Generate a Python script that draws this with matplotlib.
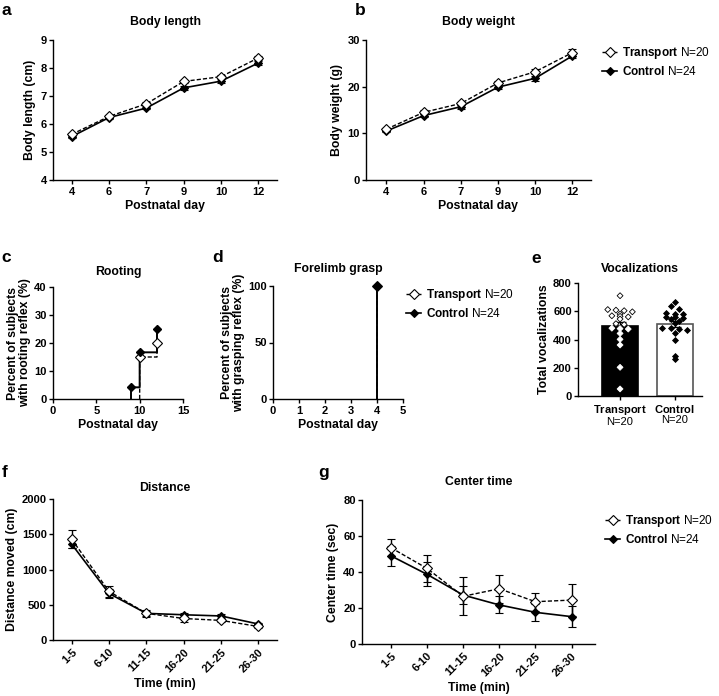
import matplotlib
import matplotlib.pyplot as plt
import numpy as np
from matplotlib.lines import Line2D

matplotlib.use("Agg")

plt.rcParams.update({
    "font.family": ["Liberation Sans", "DejaVu Sans"],
    "font.weight": "bold",
    "font.size": 8,
    "axes.labelweight": "bold",
    "axes.titleweight": "bold",
    "axes.labelsize": 8.8,
    "axes.titlesize": 8.8,
    "axes.linewidth": 1.0,
    "xtick.labelsize": 8,
    "ytick.labelsize": 8,
    "xtick.major.width": 1.0,
    "ytick.major.width": 1.0,
    "xtick.major.size": 3,
    "ytick.major.size": 3,
    "xtick.major.pad": 2,
    "ytick.major.pad": 1.5,
    "mathtext.fontset": "custom",
    "mathtext.rm": "Liberation Sans",
    "mathtext.bf": "Liberation Sans:bold",
})

# ---- data -------------------------------------------------------------
days = ["4", "6", "7", "9", "10", "12"]

length_tr = [5.63, 6.27, 6.72, 7.52, 7.69, 8.36]
length_tr_sem = [0.05, 0.05, 0.06, 0.06, 0.06, 0.07]
length_ct = [5.55, 6.23, 6.57, 7.29, 7.53, 8.18]
length_ct_sem = [0.05, 0.05, 0.05, 0.06, 0.06, 0.06]

weight_tr = [10.9, 14.5, 16.4, 20.8, 23.2, 27.3]
weight_tr_sem = [0.3, 0.4, 0.4, 0.5, 0.5, 0.8]
weight_ct = [10.5, 13.8, 15.7, 19.9, 21.8, 26.6]
weight_ct_sem = [0.3, 0.3, 0.4, 0.4, 0.5, 0.5]

rooting_tr_days = [10, 12]
rooting_tr_pct = [15.0, 20.0]
rooting_ct_days = [9, 10, 12]
rooting_ct_pct = [4.17, 16.67, 25.0]

grasp_tr_days = [4]
grasp_tr_pct = [100.0]
grasp_ct_days = [4]
grasp_ct_pct = [100.0]

voc_groups = ["Transport", "Control"]
voc_tr = [710, 612, 608, 604, 596, 580, 568, 564, 560, 545,
          512, 506, 480, 477, 474, 443, 401, 361, 203, 50]
voc_ct = [667, 637, 616, 590, 582, 578, 562, 560, 550, 545,
          530, 515, 480, 478, 472, 465, 448, 396, 283, 262]

bins = ["1-5", "6-10", "11-15", "16-20", "21-25", "26-30"]

dist_tr = [1430, 690, 378, 305, 278, 192]
dist_tr_sem = [125, 80, 50, 50, 25, 20]
dist_ct = [1360, 660, 378, 358, 341, 227]
dist_ct_sem = [60, 60, 40, 30, 25, 20]

center_tr = [53.5, 42.0, 26.5, 30.7, 23.5, 24.4]
center_tr_sem = [4.6, 7.6, 10.5, 7.8, 5.0, 9.0]
center_ct = [49.0, 38.7, 27.2, 21.7, 17.6, 15.2]
center_ct_sem = [5.5, 6.6, 5.0, 4.7, 4.8, 5.8]

# ---- styles -----------------------------------------------------------
TR = dict(color="black", ls=(0, (3, 1.5)), lw=1.0, marker="D", ms=5,
          mfc="white", mec="black", mew=0.8)
CT = dict(color="black", ls="-", lw=1.2, marker="D", ms=4.5,
          mfc="black", mec="black", mew=0.8)

W, H = 719, 696
fig = plt.figure(figsize=(W / 100, H / 100), dpi=100)


def _axes(left, top, right, bottom):
    ax = fig.add_axes([left / W, 1 - bottom / H, (right - left) / W, (bottom - top) / H])
    ax.spines[["top", "right"]].set_visible(False)
    return ax


def _letter(x, y, s):
    fig.text(x / W, 1 - y / H, s, fontsize=12.5, fontweight="bold", va="top", ha="left")


def _legend(x, y):
    handles = [Line2D([0], [0], **TR), Line2D([0], [0], **CT)]
    labels = [r"$\bf{Transport}$ N=20", r"$\bf{Control}$ N=24"]
    fig.legend(handles, labels, loc="upper left", bbox_to_anchor=(x / W, 1 - y / H),
               frameon=False, prop={"size": 8.5, "weight": "normal"},
               handlelength=1.3, handletextpad=0.4, labelspacing=0.35,
               borderaxespad=0, borderpad=0)


def _growth(ax, tr, tr_sem, ct, ct_sem, labels):
    x = np.arange(len(labels))
    ax.errorbar(x, ct, yerr=ct_sem, capsize=3, elinewidth=1, capthick=1, zorder=3, **CT)
    ax.errorbar(x, tr, yerr=tr_sem, capsize=3, elinewidth=1, capthick=1, zorder=4, **TR)
    ax.set_xticks(x)
    ax.set_xticklabels(labels)


def _step_path(days_, pct):
    # cumulative curve: rises vertically at each day, flat in between
    xs, ys = [days_[0]], [0.0]
    for i, (d, p) in enumerate(zip(days_, pct)):
        if i > 0:
            xs.append(d)
            ys.append(ys[-1])
        xs.append(d)
        ys.append(p)
    return xs, ys


def _reflex(ax, tr_days, tr_pct, ct_days, ct_pct):
    xs, ys = _step_path(tr_days, tr_pct)
    ax.plot(xs, ys, color="black", ls=(0, (3, 1.5)), lw=1.0, zorder=2,
            clip_on=False, snap=False)
    xs, ys = _step_path(ct_days, ct_pct)
    ax.plot(xs, ys, color="black", ls="-", lw=1.4, zorder=3,
            clip_on=False, snap=False)
    ax.plot(tr_days, tr_pct, ls="none", marker="D", ms=5, mfc="white",
            mec="black", mew=0.8, zorder=4, clip_on=False)
    ax.plot(ct_days, ct_pct, ls="none", marker="D", ms=4.5, mfc="black",
            mec="black", zorder=5, clip_on=False)


def _swarm_offsets(values, bin_width=22, step=0.15):
    values = np.asarray(values, dtype=float)
    offsets = np.zeros(len(values))
    keys = np.floor(values / bin_width)
    for k in np.unique(keys):
        idx = np.where(keys == k)[0]
        n = len(idx)
        offsets[idx] = (np.arange(n) - (n - 1) / 2) * step
    return offsets


def _rotate(ax):
    for t in ax.get_xticklabels():
        t.set_rotation(45)
        t.set_ha("right")
        t.set_rotation_mode("anchor")


# a: body length
ax = _axes(53, 40, 277, 180)
_growth(ax, length_tr, length_tr_sem, length_ct, length_ct_sem, days)
ax.set_xlim(-0.5, 5.5)
ax.set_ylim(4, 9)
ax.set_yticks(range(4, 10))
ax.set_title("Body length", pad=11)
ax.set_xlabel("Postnatal day", labelpad=2)
ax.set_ylabel("Body length (cm)", labelpad=3)
_letter(2, 3, "a")

# b: body weight
ax = _axes(366, 40, 591, 180)
_growth(ax, weight_tr, weight_tr_sem, weight_ct, weight_ct_sem, days)
ax.set_xlim(-0.55, 5.5)
ax.set_ylim(0, 30)
ax.set_yticks([0, 10, 20, 30])
ax.set_title("Body weight", pad=11)
ax.set_xlabel("Postnatal day", labelpad=2)
ax.set_ylabel("Body weight (g)", labelpad=3)
_letter(355, 3, "b")
_legend(602, 45)

# c: rooting
ax = _axes(53, 287, 183, 399)
_reflex(ax, rooting_tr_days, rooting_tr_pct, rooting_ct_days, rooting_ct_pct)
ax.set_xlim(0, 15)
ax.set_ylim(0, 40)
ax.set_xticks([0, 5, 10, 15])
ax.set_yticks([0, 10, 20, 30, 40])
ax.set_title("Rooting", pad=9)
ax.set_xlabel("Postnatal day", labelpad=2)
ax.set_ylabel("Percent of subjects\nwith rooting reflex (%)", labelpad=2, linespacing=1.0)
_letter(1, 250, "c")

# d: forelimb grasp
ax = _axes(273, 286, 403, 399)
_reflex(ax, grasp_tr_days, grasp_tr_pct, grasp_ct_days, grasp_ct_pct)
ax.set_xlim(0, 5)
ax.set_ylim(0, 100)
ax.set_xticks(range(6))
ax.set_yticks([0, 50, 100])
ax.set_title("Forelimb grasp", pad=10)
ax.set_xlabel("Postnatal day", labelpad=2)
ax.set_ylabel("Percent of subjects\nwith grasping reflex (%)", labelpad=2, linespacing=1.0)
_letter(212, 250, "d")
_legend(406, 287)

# e: vocalizations
ax = _axes(578, 283, 702, 396)
x = np.arange(len(voc_groups))
for i, vals in enumerate([voc_tr, voc_ct]):
    vals = np.asarray(vals, dtype=float)
    mean = vals.mean()
    sem = vals.std(ddof=1) / np.sqrt(len(vals))
    if i == 0:
        ax.bar(x[i], mean, width=0.66, color="black", edgecolor="black", lw=1.2, zorder=2)
        ax.scatter(x[i] + _swarm_offsets(vals), vals, marker="D", s=9, facecolors="white",
                   edgecolors=["black" if v > mean else "white" for v in vals],
                   linewidths=0.6, zorder=4)
    else:
        ax.bar(x[i], mean, width=0.66, color="white", edgecolor="#555555", lw=1.2, zorder=2)
        ax.scatter(x[i] + _swarm_offsets(vals), vals, marker="D", s=9, facecolors="black",
                   edgecolors="black", linewidths=0.6, zorder=4)
    ax.errorbar(x[i], mean, yerr=sem, color="black", capsize=4,
                elinewidth=1, capthick=1, zorder=3)
ax.set_xlim(-0.77, 1.5)
ax.set_ylim(0, 800)
ax.set_yticks([0, 200, 400, 600, 800])
ax.set_xticks(x)
ax.set_xticklabels([rf"$\bf{{{g}}}$" + "\nN=20" for g in voc_groups],
                   fontweight="normal", fontsize=8, linespacing=1.05)
ax.tick_params(axis="x", pad=2)
ax.set_title("Vocalizations", pad=8)
ax.set_ylabel("Total vocalizations", labelpad=2)
_letter(531, 251, "e")

# f: distance
ax = _axes(53, 499, 277, 640)
_growth(ax, dist_tr, dist_tr_sem, dist_ct, dist_ct_sem, bins)
ax.set_xlim(-0.5, 5.5)
ax.set_ylim(0, 2000)
ax.set_yticks([0, 500, 1000, 1500, 2000])
_rotate(ax)
ax.set_title("Distance", pad=6)
ax.set_xlabel("Time (min)", labelpad=3)
ax.set_ylabel("Distance moved (cm)", labelpad=3)
_letter(2, 465, "f")

# g: center time
ax = _axes(362, 500, 595, 644)
_growth(ax, center_tr, center_tr_sem, center_ct, center_ct_sem, bins)
ax.set_xlim(-0.8, 5.65)
ax.set_ylim(0, 80)
ax.set_yticks([0, 20, 40, 60, 80])
_rotate(ax)
ax.set_title("Center time", pad=11)
ax.set_xlabel("Time (min)", labelpad=3)
ax.set_ylabel("Center time (sec)", labelpad=3)
_letter(318, 465, "g")
_legend(605, 513)

fig.savefig("out.png", dpi=100)
plt.close(fig)
